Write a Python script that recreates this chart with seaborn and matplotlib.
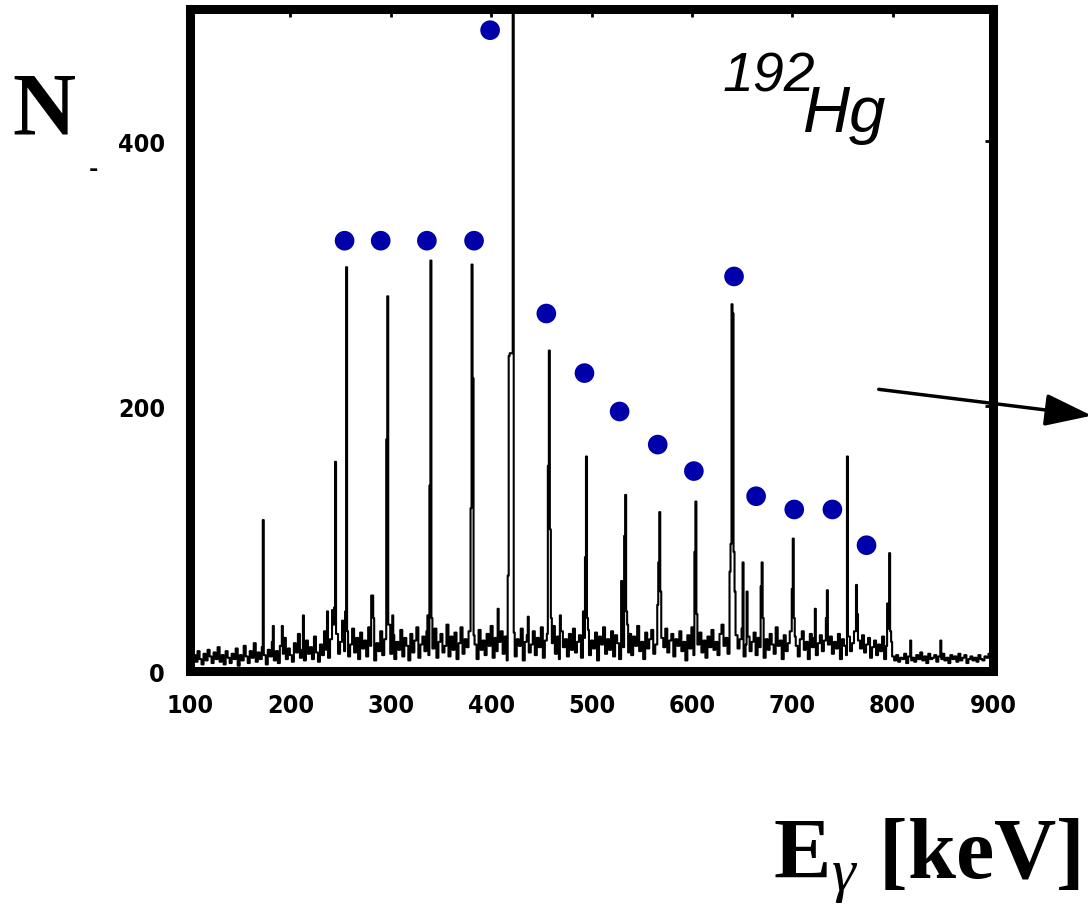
import numpy as np
import matplotlib
matplotlib.use("Agg")
import matplotlib.pyplot as plt
import seaborn as sns
from matplotlib.patches import FancyArrowPatch

# background counts, 2 keV per bin, 100-900 keV
background = [
    10, 4, 12, 7, 15, 9, 5, 13, 8, 16, 11, 6, 14, 9, 18, 7, 12, 5, 15, 10,
    6, 13, 9, 17, 4, 12, 8, 19, 11, 6, 15, 10, 21, 7, 14, 9, 18, 12, 5, 16,
    11, 22, 8, 15, 6, 19, 13, 25, 9, 17, 12, 7, 21, 14, 28, 10, 16, 8, 23, 13,
    18, 9, 26, 14, 7, 20, 12, 30, 16, 10, 24, 35, 19, 28, 13, 22, 38, 15, 27, 11,
    20, 32, 14, 25, 9, 29, 17, 23, 11, 33, 19, 26, 8, 21, 15, 30, 12, 24, 18, 35,
    13, 27, 9, 22, 16, 31, 11, 25, 19, 8, 28, 14, 23, 33, 10, 20, 26, 15, 30, 12,
    25, 17, 32, 10, 22, 28, 14, 19, 35, 11, 26, 16, 29, 9, 21, 33, 13, 24, 18, 30,
    14, 27, 20, 9, 31, 16, 23, 12, 28, 19, 34, 10, 25, 15, 22, 30, 13, 26, 8, 21,
    17, 29, 11, 24, 19, 32, 8, 22, 27, 14, 20, 30, 12, 25, 18, 33, 10, 23, 28, 15,
    21, 34, 13, 26, 9, 30, 18, 24, 11, 28, 16, 32, 14, 22, 27, 10, 25, 19, 31, 12,
    23, 17, 29, 8, 26, 20, 33, 13, 24, 16, 30, 11, 27, 21, 9, 31, 18, 25, 14, 28,
    12, 26, 19, 34, 15, 22, 9, 29, 17, 24, 31, 13, 20, 27, 10, 25, 18, 32, 14, 23,
    28, 11, 24, 19, 30, 15, 22, 8, 27, 17, 33, 12, 25, 20, 29, 14, 23, 10, 26, 18,
    31, 16, 22, 12, 28, 35, 19, 25, 13, 30, 21, 9, 27, 17, 24, 32, 11, 20, 26, 15,
    22, 29, 12, 25, 18, 31, 10, 24, 16, 28, 20, 13, 33, 19, 23, 9, 27, 15, 21, 30,
    14, 26, 19, 11, 24, 30, 16, 22, 9, 28, 18, 25, 12, 21, 27, 15, 23, 10, 20, 26,
    13, 22, 17, 28, 9, 24, 19, 12, 26, 15, 21, 30, 11, 23, 17, 27, 14, 20, 25, 10,
    18, 23, 12, 20, 15, 26, 9, 19, 14, 22, 11, 8, 12, 7, 10, 9, 13, 6, 11, 8,
    10, 7, 12, 9, 14, 8, 11, 6, 13, 9, 10, 12, 7, 11, 9, 13, 8, 10, 6, 12,
    9, 11, 7, 13, 8, 10, 12, 6, 9, 11, 8, 10, 7, 12, 9, 8, 11, 10, 13, 9,
]

# single 1 keV channels of the lines (energy, counts)
peak_kev = [173, 183, 192, 213, 237, 242, 244, 245, 255, 256, 257,
            281, 282, 283, 296, 297, 298, 302, 337, 339, 340, 341,
            380, 381, 382, 407, 417, 418, 419, 420, 421, 422, 437,
            457, 458, 459, 460, 469, 492, 494, 495, 496,
            530, 533, 534, 535, 536, 566, 567, 568, 569,
            603, 604, 605, 638, 639, 640, 641, 642, 643, 651, 655,
            669, 670, 671, 700, 701, 702, 723, 734, 735,
            755, 764, 765, 795, 796, 797, 798, 818, 848]
peak_counts = [114, 34, 34, 42, 45, 46, 48, 158, 45, 305, 30,
               57, 57, 40, 175, 283, 35, 42, 42, 140, 310, 40,
               123, 307, 221, 47, 72, 238, 240, 240, 240, 560, 41,
               155, 242, 107, 40, 42, 45, 86, 162, 40,
               68, 102, 133, 45, 35, 50, 82, 120, 60,
               90, 128, 43, 75, 96, 277, 270, 90, 60, 82, 60,
               64, 82, 40, 62, 100, 40, 47, 40, 61,
               162, 65, 43, 51, 32, 89, 30, 23, 23]

# marked transitions (blue dots)
dot_kev = [254, 290, 336, 383, 399, 455, 493, 528, 566, 602, 642, 664, 702, 740, 774]
dot_counts = [325, 325, 325, 325, 484, 270, 225, 196, 171, 151, 298, 132, 122, 122, 95]

x_ticks = [100, 200, 300, 400, 500, 600, 700, 800, 900]
y_ticks = [0, 200, 400]

energy = np.arange(100, 900)
counts = np.repeat(np.array(background, dtype=float), 2)
for e, c in zip(peak_kev, peak_counts):
    counts[e - 100] = max(counts[e - 100], c)

sns.set_style("white")
plt.rcParams["mathtext.fontset"] = "custom"
plt.rcParams["mathtext.rm"] = "Liberation Serif"
plt.rcParams["mathtext.it"] = "Liberation Serif:italic"
plt.rcParams["mathtext.bf"] = "Liberation Serif:bold"
plt.rcParams["text.color"] = "black"

fig = plt.figure(figsize=(10.88, 9.12), dpi=100)
ax = fig.add_axes([190 / 1088, 240 / 912, 803 / 1088, 662 / 912])

sns.lineplot(x=energy, y=counts, drawstyle="steps-mid", estimator=None,
             color="black", linewidth=1.5, ax=ax)
sns.scatterplot(x=dot_kev, y=dot_counts, s=200, color="#0000AA",
                edgecolor="none", ax=ax, zorder=3)

ax.set_xlim(100, 900)
ax.set_ylim(0, 500)
ax.set_xticks(x_ticks)
ax.set_yticks(y_ticks)
ax.set_xlabel("")
ax.set_ylabel("")
for sp in ax.spines.values():
    sp.set_linewidth(6.5)
    sp.set_color("black")
ax.tick_params(direction="in", length=6, width=2, top=True, right=True,
               colors="black")
ax.tick_params(axis="x", pad=16)
ax.tick_params(axis="y", pad=18)
for lab in ax.get_xticklabels() + ax.get_yticklabels():
    lab.set_fontfamily(["Liberation Sans Narrow", "DejaVu Sans"])
    lab.set_fontstretch("condensed")
    lab.set_fontweight("bold")
    lab.set_fontsize(18)

# labels around the frame
fig.text(12 / 1088, 1 - 133 / 912, "N", fontsize=63, fontweight="bold",
         family="Liberation Serif", va="baseline", ha="left", color="black")
fig.text(93 / 1088, 1 - 170 / 912, "-", fontsize=16, fontweight="bold",
         va="center", ha="center", color="black")
fig.text(1080 / 1088, 1 - 878 / 912, r"E$_{\gamma}$ [keV]", fontsize=62,
         fontweight="bold", family="Liberation Serif", va="baseline",
         ha="right", color="black")
fig.text(723 / 1088, 1 - 92 / 912, "192", fontsize=40, style="italic",
         family="Liberation Sans", va="baseline", ha="left", color="black")
fig.text(803 / 1088, 1 - 132 / 912, "Hg", fontsize=47, style="italic",
         family="Liberation Sans", va="baseline", ha="left", color="black")

arrow = FancyArrowPatch((876 / 1088, 1 - 390 / 912), (1.006, 1 - 417 / 912),
                        transform=fig.transFigure,
                        arrowstyle="-|>,head_length=1.45,head_width=0.5",
                        mutation_scale=20, linewidth=2.5, color="black")
fig.add_artist(arrow)

fig.savefig("out.png", dpi=100)
